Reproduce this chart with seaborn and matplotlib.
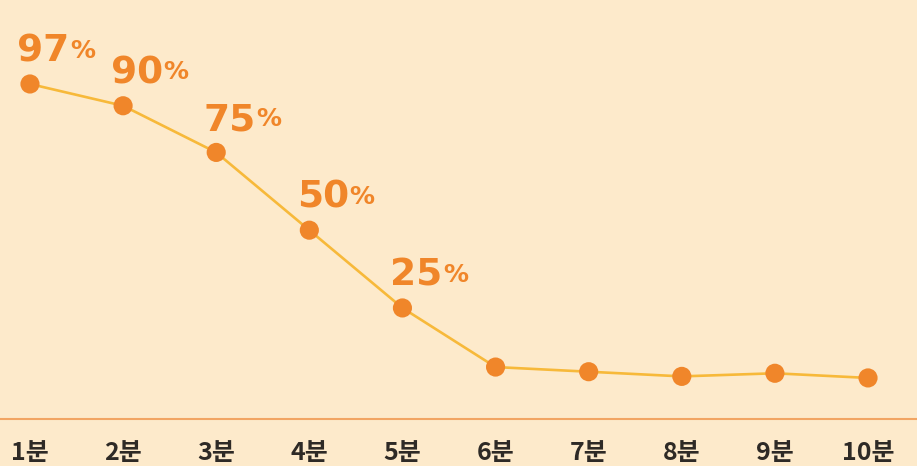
import numpy as np
import pandas as pd
import seaborn as sns
from matplotlib import pyplot as plt

# values (6분~10분 estimated, no labels there)
minutes = ["1분", "2분", "3분", "4분", "5분", "6분", "7분", "8분", "9분", "10분"]
rates = [97, 90, 75, 50, 25, 6, 4.5, 3, 4, 2.5]
labeled = [True, True, True, True, True, False, False, False, False, False]

bg = "#FDEACB"
line_col = "#F7B93A"
dot_col = "#F0862A"
axis_col = "#F2A563"
tick_col = "#2E2A26"

sns.set_style("white")
plt.rcParams["font.family"] = ["Noto Sans CJK KR", "DejaVu Sans"]

df = pd.DataFrame({"pos": np.arange(len(minutes)), "rate": rates})

fig = plt.figure(figsize=(9.17, 4.66), dpi=100)
fig.patch.set_facecolor(bg)
ax = fig.add_axes([0, 47 / 466, 1, 419 / 466])
ax.set_facecolor(bg)

sns.lineplot(data=df, x="pos", y="rate", color=line_col, linewidth=1.9, ax=ax, zorder=2)
sns.scatterplot(data=df, x="pos", y="rate", color=dot_col, s=190, edgecolor="none",
                ax=ax, zorder=3)

for i, (v, show) in enumerate(zip(rates, labeled)):
    if not show:
        continue
    t = ax.annotate(str(v), xy=(i, v), xytext=(-9, 16), textcoords="offset points",
                    ha="left", va="baseline", fontsize=27, fontweight="bold",
                    family="DejaVu Sans", color=dot_col)
    ax.annotate("%", xy=(1, 0.2), xycoords=t, xytext=(0.5, 0), textcoords="offset points",
                ha="left", va="bottom", fontsize=18, fontweight="bold",
                family="DejaVu Sans", color=dot_col)

ax.set_xlim(-0.322, 9.526)
ax.set_ylim(-10.7, 124)
ax.set_xticks(df["pos"])
ax.set_xticklabels(minutes, fontsize=18, fontweight="bold", color=tick_col)
ax.set_yticks([])
ax.set_xlabel("")
ax.set_ylabel("")
ax.tick_params(axis="x", length=0, pad=16)

for s in ["top", "left", "right"]:
    ax.spines[s].set_visible(False)
ax.spines["bottom"].set_color(axis_col)
ax.spines["bottom"].set_linewidth(1.5)

fig.savefig("out.png", dpi=100, facecolor=bg)
